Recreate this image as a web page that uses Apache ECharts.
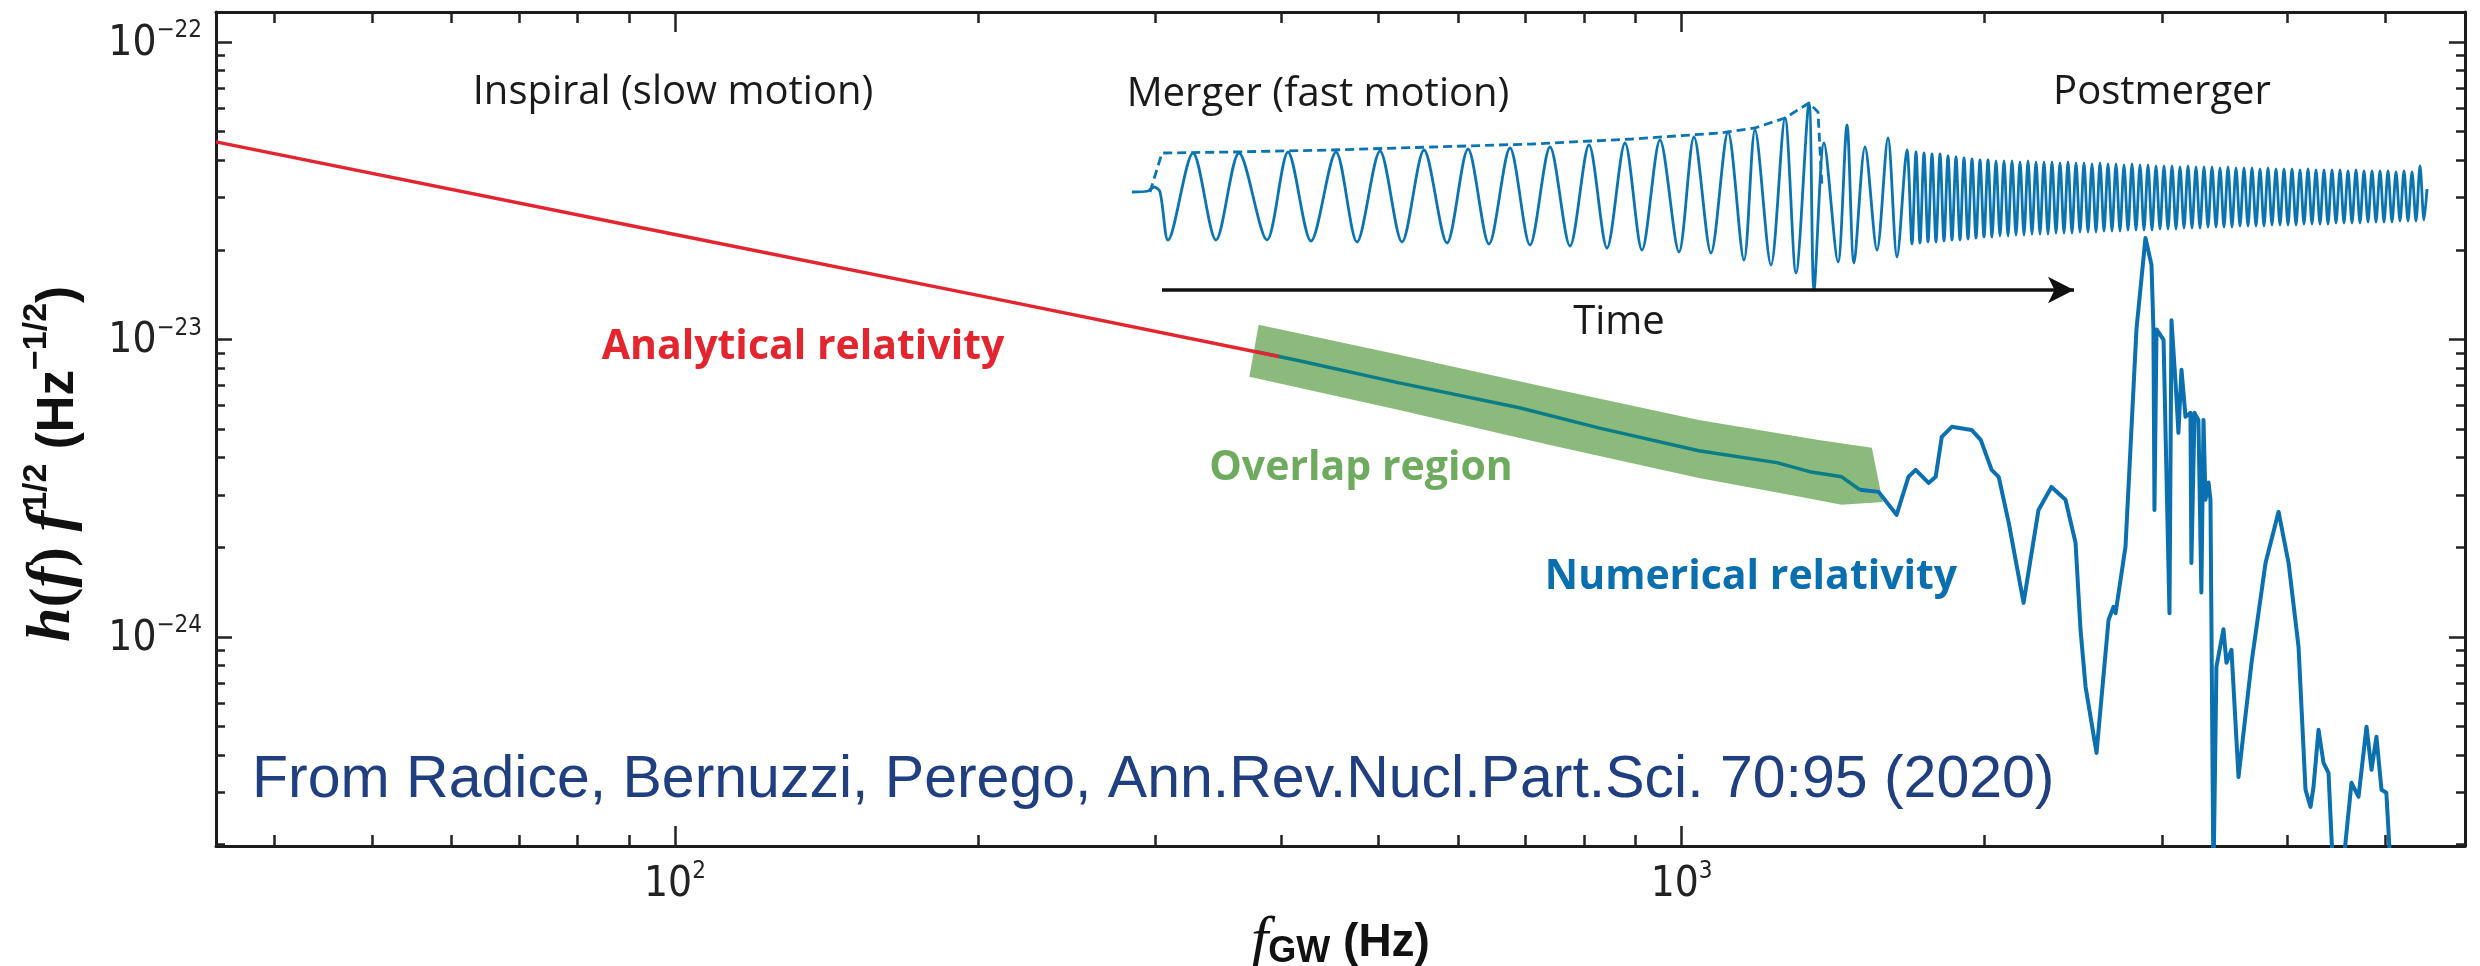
<!DOCTYPE html>
<html>
<head>
<meta charset="utf-8">
<script src="https://cdn.jsdelivr.net/npm/echarts@6/dist/echarts.min.js"></script>
<style>
html, body { margin: 0; padding: 0; background: #fff; }
#chart { width: 2480px; height: 966px; }
</style>
</head>
<body>
<div id="chart"></div>
<script>
// ---- values: [frequency Hz, h(f) f^1/2] ----
// analytical (post-Newtonian) inspiral, red
const anaPts = [[35, 4.61e-23], [100, 2.25e-23], [210, 1.36e-23], [398, 8.76e-24]];

// overlap band edges (green), left to right
const bandUpper = [[380, 1.12e-23], [524, 8.87e-24], [738, 6.87e-24], [1040, 5.36e-24], [1368, 4.59e-24], [1545, 4.32e-24]];
const bandLower = [[372, 7.48e-24], [524, 5.79e-24], [738, 4.42e-24], [1040, 3.42e-24], [1307, 2.96e-24], [1442, 2.78e-24], [1584, 2.84e-24]];

// numerical relativity spectrum inside the band (teal)
const nrOverlapPts = [[378, 9.08e-24], [417, 8.47e-24], [524, 7.14e-24], [690, 5.89e-24], [827, 5.04e-24],
  [1040, 4.22e-24], [1243, 3.85e-24], [1340, 3.59e-24], [1442, 3.45e-24], [1503, 3.12e-24]];

// numerical relativity spectrum, merger + postmerger (blue)
const nrPostPts = [
  [1503, 3.12e-24], [1569, 3.07e-24], [1635, 2.57e-24], [1680, 3.45e-24], [1708, 3.64e-24], [1759, 3.29e-24],
  [1788, 3.45e-24], [1813, 4.70e-24], [1855, 5.08e-24], [1941, 4.96e-24], [1982, 4.59e-24], [2032, 3.64e-24],
  [2065, 3.45e-24], [2113, 2.42e-24], [2186, 1.30e-24], [2262, 2.67e-24], [2330, 3.19e-24], [2406, 2.89e-24],
  [2462, 2.07e-24], [2490, 1.06e-24], [2519, 6.79e-25], [2583, 4.07e-25], [2655, 1.14e-24], [2685, 1.26e-24],
  [2698, 1.20e-24], [2760, 2.01e-24], [2792, 4.35e-24], [2830, 1.08e-23], [2889, 2.19e-23], [2929, 1.78e-23],
  [2942, 1.08e-23], [2949, 2.67e-24], [2963, 1.08e-23], [3011, 9.96e-24], [3052, 1.20e-24], [3066, 1.16e-23],
  [3101, 6.41e-24], [3115, 4.85e-24], [3137, 7.90e-24], [3166, 5.49e-24], [3202, 5.66e-24], [3209, 1.77e-24],
  [3232, 5.66e-24], [3261, 5.36e-24], [3283, 1.41e-24], [3299, 5.36e-24], [3314, 2.89e-24], [3337, 3.30e-24],
  [3352, 2.89e-24], [3375, 1.5e-25], [3398, 7.93e-25], [3453, 1.06e-24], [3477, 8.18e-25], [3517, 9.04e-25],
  [3574, 3.38e-25], [3682, 8.18e-25], [3802, 1.77e-24], [3917, 2.63e-24], [4008, 1.77e-24], [4100, 9.26e-25],
  [4166, 3.06e-25], [4214, 2.68e-25], [4243, 3.13e-25], [4292, 4.87e-25], [4341, 3.77e-25], [4391, 3.49e-25],
  [4442, 1.5e-25], [4524, 1.5e-25], [4628, 3.23e-25], [4703, 2.90e-25], [4790, 4.98e-25], [4845, 3.57e-25],
  [4900, 4.61e-25], [4957, 3.06e-25], [5012, 2.99e-25], [5070, 1.5e-25]
];

// inset waveform: [time (arb.), strain (arb.)]
const wavePts = [
  [0, 0], [1.6, 0.1], [2.2, 0.5], [2.8, 0], [3.6, -4.8], [6.1, 3.9], [8.4, -4.8], [10.7, 3.9], [13.5, -4.8],
  [15.6, 4.0], [17.9, -4.9], [20.4, 4.0], [22.5, -5.0], [24.8, 4.1], [27.0, -5.0], [29.2, 4.2], [31.5, -5.1],
  [33.6, 4.3], [35.7, -5.2], [37.8, 4.4], [39.8, -5.3], [41.8, 4.5], [43.8, -5.4], [45.7, 4.7], [47.5, -5.6],
  [49.3, 4.9], [51.0, -5.8], [52.8, 5.2], [54.7, -6.0], [56.2, 5.5], [57.9, -6.1], [59.6, 6.0], [61.2, -6.8],
  [62.3, 6.2], [63.9, -7.3], [65.3, 7.4], [66.4, -8.1], [67.7, 8.9], [68.2, -9.8], [69.2, 4.9], [70.6, -7.0],
  [71.5, 6.7], [72.2, -7.1], [73.3, 4.5], [74.5, -5.8], [75.6, 5.4], [76.5, -6.5], [77.5, 4.2],
  [78.0, -5.2], [78.4, 4.0], [78.8, -5.1], [79.2, 3.9], [79.6, -5.0], [80.0, 3.8], [80.4, -5.0], [80.8, 3.8],
  [81.2, -4.9], [81.6, 3.6], [82.0, -4.8], [82.4, 3.5], [82.8, -4.8], [83.2, 3.4], [83.6, -4.7], [84.0, 3.3],
  [84.4, -4.6], [84.8, 3.2], [85.2, -4.5], [85.6, 3.2], [86.0, -4.5], [86.4, 3.1], [86.8, -4.4], [87.2, 3.1],
  [87.6, -4.4], [88.0, 3.1], [88.4, -4.3], [88.8, 3.0], [89.2, -4.3], [89.6, 3.1], [90.0, -4.2], [90.4, 3.0],
  [90.8, -4.2], [91.2, 3.0], [91.6, -4.2], [92.0, 3.0], [92.4, -4.1], [92.8, 2.9], [93.2, -4.1], [93.6, 3.0],
  [94.0, -4.1], [94.4, 2.9], [94.8, -4.0], [95.2, 2.9], [95.6, -4.0], [96.0, 2.8], [96.4, -4.0], [96.8, 2.9],
  [97.2, -3.9], [97.6, 2.8], [98.0, -3.9], [98.4, 2.8], [98.8, -3.9], [99.2, 2.7], [99.6, -3.8], [100.0, 2.8],
  [100.4, -3.8], [100.8, 2.7], [101.2, -3.8], [101.6, 2.7], [102.0, -3.8], [102.4, 2.6], [102.8, -3.7], [103.2, 2.6],
  [103.6, -3.7], [104.0, 2.6], [104.4, -3.7], [104.8, 2.5], [105.2, -3.6], [105.6, 2.6], [106.0, -3.6], [106.4, 2.5],
  [106.8, -3.6], [107.2, 2.5], [107.6, -3.5], [108.0, 2.5], [108.4, -3.5], [108.8, 2.4], [109.2, -3.5], [109.6, 2.5],
  [110.0, -3.5], [110.4, 2.4], [110.8, -3.4], [111.2, 2.4], [111.6, -3.4], [112.0, 2.4], [112.4, -3.4], [112.8, 2.3],
  [113.2, -3.4], [113.6, 2.4], [114.0, -3.3], [114.4, 2.3], [114.8, -3.3], [115.2, 2.3], [115.6, -3.3], [116.0, 2.3],
  [116.4, -3.3], [116.8, 2.2], [117.2, -3.2], [117.6, 2.3], [118.0, -3.2], [118.4, 2.2], [118.8, -3.2], [119.2, 2.2],
  [119.6, -3.2], [120.0, 2.2], [120.4, -3.1], [120.8, 2.2], [121.2, -3.1], [121.6, 2.1], [122.0, -3.1], [122.4, 2.2],
  [122.8, -3.1], [123.2, 2.1], [123.6, -3.0], [124.0, 2.1], [124.4, -3.0], [124.8, 2.1], [125.2, -3.0], [125.6, 2.1],
  [126.0, -3.0], [126.4, 2.0], [126.8, -2.9], [127.2, 2.1], [127.6, -2.9], [128.0, 2.0], [128.4, -2.9], [128.8, 2.6],
  [129.2, -2.8], [129.5, 0.3]
];
// dashed amplitude envelope of the inspiral
const envPts = [[1.8, 0], [3.0, 3.9], [10, 4.0], [20, 4.2], [30, 4.5], [40, 4.8], [50, 5.3], [58.8, 5.9],
  [62.3, 6.4], [65.3, 7.4], [67.7, 8.9], [68.6, 8.0], [69.0, 0.5]];
// time arrow (start, end) and its level
const arrowT = [3.0, 94.2];
const arrowH = -9.8;

// axis ticks
const xMajor = [100, 1000];
const xMinor = [40, 50, 60, 70, 80, 90, 200, 300, 400, 500, 600, 700, 800, 900, 2000, 3000, 4000, 5000];
const yMajor = [1e-24, 1e-23, 1e-22];
const yMinor = [2e-25, 3e-25, 4e-25, 5e-25, 6e-25, 7e-25, 8e-25, 9e-25,
  2e-24, 3e-24, 4e-24, 5e-24, 6e-24, 7e-24, 8e-24, 9e-24,
  2e-23, 3e-23, 4e-23, 5e-23, 6e-23, 7e-23, 8e-23, 9e-23];

const X_MIN = 35, X_MAX = 6000;
const Y_MIN = 1.98e-25, Y_MAX = 1.26e-22;

// the log axis rounds its extent to 20 decimals, so the y values are plotted in units of 1e-22
const Y_UNIT = 1e-22;
const Y_UNIT_EXP = -22;
function toUnit(pts) { return pts.map(function (p) { return [p[0], p[1] / Y_UNIT]; }); }
function ticksToUnit(vals) { return vals.map(function (v) { return v / Y_UNIT; }); }

const NARROW = "'Liberation Sans Narrow', 'DejaVu Sans Condensed', Roboto, sans-serif";
const AXIS_COLOR = '#1c1c1c';

function powLabel(offset) {
    return function (v) {
        const e = Math.round(Math.log10(v)) + offset;
        return '{b|10}{s|' + (e < 0 ? '\u2212' + (-e) : e) + '}';
    };
}
const labelRich = {
    b: { fontFamily: NARROW, fontSize: 42, color: '#222', lineHeight: 46, verticalAlign: 'bottom' },
    s: { fontFamily: NARROW, fontSize: 24, color: '#222', lineHeight: 24, verticalAlign: 'top' }
};

function logAxis(dim, position, ticks, len, withLine, withLabel, extra) {
    const isX = dim === 'x';
    const ax = {
        type: 'log', logBase: 10, gridIndex: 0, position: position,
        min: isX ? X_MIN : Y_MIN / Y_UNIT,
        max: isX ? X_MAX : Y_MAX / Y_UNIT,
        axisLine: { show: withLine, onZero: false, lineStyle: { color: AXIS_COLOR, width: 3 } },
        axisTick: { show: true, inside: true, length: len, customValues: ticks, lineStyle: { color: '#222', width: 2.5 } },
        axisLabel: withLabel
            ? { show: true, customValues: ticks, margin: 14, formatter: powLabel(isX ? 0 : Y_UNIT_EXP), rich: labelRich }
            : { show: false },
        splitLine: { show: false },
        minorTick: { show: false }
    };
    return Object.assign(ax, extra || {});
}

const yMajorU = ticksToUnit(yMajor);
const yMinorU = ticksToUnit(yMinor);
const bandUpperU = toUnit(bandUpper);
const bandLowerU = toUnit(bandLower);

const chart = echarts.init(document.getElementById('chart'), null, { renderer: 'canvas' });

const option = {
    animation: false,
    backgroundColor: '#fff',
    grid: [
        { left: 216, right: 15, top: 12, bottom: 120, outerBoundsMode: 'none' },
        { left: 1132, right: 48, top: 92, bottom: 674, outerBoundsMode: 'none' }
    ],
    xAxis: [
        logAxis('x', 'bottom', xMajor, 20, true, true, {
            name: '{f|f}{sub|GW}{b| (Hz)}',
            nameLocation: 'middle',
            nameGap: 70,
            nameTextStyle: {
                rich: {
                    f: { fontFamily: "'Liberation Serif', serif", fontStyle: 'italic', fontSize: 62, color: '#111', lineHeight: 54 },
                    sub: { fontFamily: "'Liberation Sans', sans-serif", fontWeight: 'bold', fontSize: 36, color: '#111', verticalAlign: 'bottom', lineHeight: 46 },
                    b: { fontFamily: "'Liberation Sans', sans-serif", fontWeight: 'bold', fontSize: 46, color: '#111', lineHeight: 54 }
                }
            }
        }),
        logAxis('x', 'bottom', xMinor, 11, false, false),
        logAxis('x', 'top', xMajor, 20, true, false),
        logAxis('x', 'top', xMinor, 11, false, false),
        { type: 'value', gridIndex: 1, min: 0, max: 130, show: false }
    ],
    yAxis: [
        logAxis('y', 'left', yMajorU, 16, true, true, {
            name: '{i|h}{n|(}{i|f}{n|)}{i| f}{s|1/2}{b| (Hz}{s|\u22121/2}{b|)}',
            nameLocation: 'middle',
            nameGap: 132,
            nameTextStyle: {
                padding: [0, 70, 0, 0],
                rich: {
                    i: { fontFamily: "'Liberation Serif', serif", fontStyle: 'italic', fontWeight: 'bold', fontSize: 62, color: '#111', lineHeight: 64, verticalAlign: 'bottom' },
                    n: { fontFamily: "'Liberation Serif', serif", fontWeight: 'bold', fontSize: 60, color: '#111', lineHeight: 64, verticalAlign: 'bottom' },
                    s: { fontFamily: "'Liberation Sans', sans-serif", fontWeight: 'bold', fontSize: 34, color: '#111', lineHeight: 36, verticalAlign: 'top' },
                    b: { fontFamily: "'Liberation Sans', sans-serif", fontWeight: 'bold', fontSize: 51, color: '#111', lineHeight: 64, verticalAlign: 'bottom' }
                }
            }
        }),
        logAxis('y', 'left', yMinorU, 9, false, false),
        logAxis('y', 'right', yMajorU, 16, true, false),
        logAxis('y', 'right', yMinorU, 9, false, false),
        { type: 'value', gridIndex: 1, min: -10, max: 10, show: false }
    ],
    series: [
        {
            name: 'Overlap region',
            type: 'custom',
            xAxisIndex: 0, yAxisIndex: 0,
            silent: true,
            z: 1,
            data: [bandUpperU[0]],
            renderItem: function (params, api) {
                const pts = [];
                bandUpperU.forEach(function (p) { pts.push(api.coord(p)); });
                bandLowerU.slice().reverse().forEach(function (p) { pts.push(api.coord(p)); });
                return { type: 'polygon', shape: { points: pts }, style: { fill: '#8cb97c' } };
            }
        },
        {
            name: 'Numerical relativity (overlap)',
            type: 'line', xAxisIndex: 0, yAxisIndex: 0, z: 3,
            data: toUnit(nrOverlapPts), showSymbol: false, symbol: 'none',
            lineStyle: { color: '#0b7d86', width: 3.5 }
        },
        {
            name: 'Analytical relativity',
            type: 'line', xAxisIndex: 0, yAxisIndex: 0, z: 4,
            data: toUnit(anaPts), showSymbol: false, symbol: 'none',
            lineStyle: { color: '#e2252f', width: 3.5 }
        },
        {
            name: 'Numerical relativity',
            type: 'line', xAxisIndex: 0, yAxisIndex: 0, z: 3,
            data: toUnit(nrPostPts), showSymbol: false, symbol: 'none',
            lineStyle: { color: '#0a70b0', width: 4, join: 'round' }
        },
        {
            name: 'Waveform',
            type: 'line', xAxisIndex: 4, yAxisIndex: 4, z: 3,
            data: wavePts, showSymbol: false, symbol: 'none', smooth: 0.3,
            lineStyle: { color: '#0a74b2', width: 2.8, join: 'round' }
        },
        {
            name: 'Envelope',
            type: 'line', xAxisIndex: 4, yAxisIndex: 4, z: 3,
            data: envPts, showSymbol: false, symbol: 'none',
            lineStyle: { color: '#0a74b2', width: 2.8, type: [9, 5] },
            markLine: {
                silent: true,
                symbol: ['none', 'arrow'],
                symbolSize: [20, 26],
                label: { show: false },
                lineStyle: { color: '#111', width: 3.5, type: 'solid' },
                data: [[{ coord: [arrowT[0], arrowH] }, { coord: [arrowT[1], arrowH] }]]
            }
        }
    ],
    graphic: [
        { type: 'text', x: 673, y: 93, z: 10, style: { text: 'Inspiral (slow motion)', font: "40px 'Open Sans'", fill: '#1a1a1a', textAlign: 'center', textVerticalAlign: 'middle' } },
        { type: 'text', x: 1318, y: 95, z: 10, style: { text: 'Merger (fast motion)', font: "40px 'Open Sans'", fill: '#1a1a1a', textAlign: 'center', textVerticalAlign: 'middle' } },
        { type: 'text', x: 2162, y: 93, z: 10, style: { text: 'Postmerger', font: "40px 'Open Sans'", fill: '#1a1a1a', textAlign: 'center', textVerticalAlign: 'middle' } },
        { type: 'text', x: 1619, y: 323, z: 10, style: { text: 'Time', font: "40px 'Open Sans'", fill: '#1a1a1a', textAlign: 'center', textVerticalAlign: 'middle' } },
        { type: 'text', x: 803, y: 347, z: 10, style: { text: 'Analytical relativity', font: "bold 41px 'Open Sans'", fill: '#e2252f', textAlign: 'center', textVerticalAlign: 'middle' } },
        { type: 'text', x: 1361, y: 468, z: 10, style: { text: 'Overlap region', font: "bold 41px 'Open Sans'", fill: '#6eab5e', textAlign: 'center', textVerticalAlign: 'middle' } },
        { type: 'text', x: 1751, y: 577, z: 10, style: { text: 'Numerical relativity', font: "bold 41px 'Open Sans'", fill: '#0a6fae', textAlign: 'center', textVerticalAlign: 'middle' } },
        { type: 'text', x: 252, y: 781, z: 10, style: { text: 'From Radice, Bernuzzi, Perego, Ann.Rev.Nucl.Part.Sci. 70:95 (2020)', font: "59px 'Liberation Sans'", fill: '#1f3f80', textAlign: 'left', textVerticalAlign: 'middle' } }
    ]
};

chart.setOption(option);
</script>
</body>
</html>
